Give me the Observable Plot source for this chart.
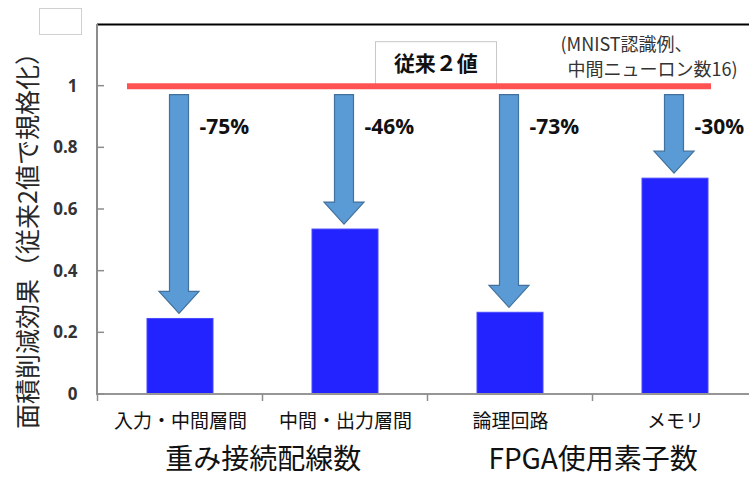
<!DOCTYPE html>
<html>
<head>
<meta charset="utf-8">
<script src="https://cdn.jsdelivr.net/npm/d3@7"></script>
<script src="https://cdn.jsdelivr.net/npm/@observablehq/plot@0.6"></script>
<style>
  body { margin: 0; background: #fff; overflow: hidden; }
  #wrap { position: relative; width: 749px; height: 478px; }
  #legendbox { position: absolute; left: 39px; top: 8px; width: 43px; height: 27px; border: 1px solid #d0d0d0; box-sizing: border-box; }
</style>
</head>
<body>
<div id="wrap"><div id="legendbox"></div></div>
<script>
// ---- data ----
const categories = ["入力・中間層間", "中間・出力層間", "論理回路", "メモリ"];
const values = [0.245, 0.535, 0.265, 0.70];
const reductions = ["-75%", "-46%", "-73%", "-30%"];
const yTicks = [0, 0.2, 0.4, 0.6, 0.8, 1];
const yMax = 1.2;
const baselineValue = 1;
const baselineLabel = "従来２値";
const groupLabels = ["重み接続配線数", "FPGA使用素子数"];
const groupFirstCategory = ["入力・中間層間", "論理回路"];
const yTitle = "面積削減効果（従来2値で規格化）";
const noteLine1 = "(MNIST認識例、";
const noteLine2 = "中間ニューロン数16)";

// ---- setup ----
const W = 749, H = 478;
const jp = "'Noto Sans CJK JP', 'Noto Sans', sans-serif";
const num = "'Open Sans', 'Noto Sans', sans-serif";
const bars = categories.map((c, i) => ({category: c, value: values[i], reduction: reductions[i]}));
const xRange = [97, 758];
const step = (xRange[1] - xRange[0]) / categories.length;

// axis lines & ticks (Excel-like: inward y ticks, category boundary ticks)
function decor(index, scales, vals, dims) {
  const {x, y} = scales;
  const g = d3.create("svg:g");
  const left = dims.marginLeft, top = dims.marginTop, bottom = dims.height - dims.marginBottom;
  const bw = x.bandwidth(), st = x.step();
  g.append("line").attr("x1", left).attr("x2", dims.width).attr("y1", y(0)).attr("y2", y(0))
    .attr("stroke", "#969696").attr("stroke-width", 2);
  g.append("line").attr("x1", left).attr("x2", left).attr("y1", top).attr("y2", bottom + 1)
    .attr("stroke", "#8c8c8c").attr("stroke-width", 2);
  for (const t of yTicks) {
    g.append("line").attr("x1", left).attr("x2", left + 7).attr("y1", y(t)).attr("y2", y(t))
      .attr("stroke", "#8c8c8c").attr("stroke-width", 1.5);
  }
  for (const c of categories) {
    const bx = x(c) + bw / 2 - st / 2;
    g.append("line").attr("x1", bx).attr("x2", bx).attr("y1", y(0)).attr("y2", y(0) + 7)
      .attr("stroke", "#8c8c8c").attr("stroke-width", 1.5);
  }
  return g.node();
}

// box behind the 従来２値 label
function labelBox(index, scales, vals, dims) {
  const {x, y} = scales;
  const bw = x.bandwidth(), st = x.step();
  const cx = x(categories[2]) + bw / 2 - st / 2 + 8;
  return d3.create("svg:rect")
    .attr("x", cx - 60).attr("width", 121)
    .attr("y", y(baselineValue) - 44).attr("height", 43)
    .attr("fill", "#fff").attr("stroke", "#c8c8c8").attr("stroke-width", 1)
    .node();
}

// block arrows from the baseline down to each bar
function arrows(index, scales, vals, dims) {
  const {x, y} = scales;
  const bw = x.bandwidth();
  const g = d3.create("svg:g");
  for (const d of bars) {
    const cx = x(d.category) + bw / 2 - 1;
    const y0 = y(baselineValue) + 9;
    const y1 = y(d.value) - 5;
    const head = 22, sw = 9.5, hw = 20;
    const p = [
      [cx - sw, y0], [cx + sw, y0], [cx + sw, y1 - head], [cx + hw, y1 - head],
      [cx, y1], [cx - hw, y1 - head], [cx - sw, y1 - head]
    ];
    g.append("path").attr("d", "M" + p.map(q => q.join(",")).join("L") + "Z")
      .attr("fill", "#5b9bd5").attr("stroke", "#41719c").attr("stroke-width", 1.2)
      .attr("stroke-linejoin", "miter");
  }
  return g.node();
}

const chart = Plot.plot({
  width: W,
  height: H,
  marginLeft: 97,
  marginRight: 0,
  marginTop: 24,
  marginBottom: 84,
  style: {fontFamily: jp, background: "#fff", overflow: "visible"},
  x: {type: "band", domain: categories, range: xRange, paddingInner: 0.6, paddingOuter: 0.3, axis: null},
  y: {domain: [0, yMax], axis: null},
  marks: [
    Plot.ruleY([yMax], {stroke: "#000", strokeWidth: 2}),
    labelBox,
    Plot.text([baselineLabel], {x: () => categories[2], y: () => baselineValue, dx: -step / 2 + 8, dy: -22,
      fontSize: 21, fontWeight: "bold", fill: "#111", fontFamily: jp}),
    Plot.ruleY([baselineValue], {stroke: "#ff5353", strokeWidth: 6, insetLeft: 30, insetRight: 38}),
    arrows,
    Plot.barY(bars, {x: "category", y: "value", fill: "#2323ff", stroke: "#4848ff", strokeWidth: 1}),
    decor,
    Plot.text(bars, {x: "category", y: () => baselineValue, text: "reduction", dx: 19, dy: 41,
      textAnchor: "start", fontSize: 21, fontWeight: "bold", fill: "#111", fontFamily: num}),
    Plot.text(bars, {x: "category", y: () => 0, text: "category", dy: 27, fontSize: 19, fill: "#111"}),
    Plot.text(yTicks, {y: d => d, text: d => String(d), frameAnchor: "left", dx: -20, textAnchor: "end",
      fontSize: 17, fontWeight: "bold", fill: "#333", fontFamily: num}),
    Plot.text(groupLabels, {x: (d, i) => groupFirstCategory[i], y: () => 0, text: d => d, dx: step / 2, dy: 66,
      fontSize: 28, fill: "#111"}),
    Plot.text([yTitle], {frameAnchor: "left", dx: -69, dy: 25, rotate: -90, textAnchor: "middle",
      fontSize: 25, fill: "#262626"}),
    Plot.text([noteLine1], {frameAnchor: "top-left", dx: 463, dy: 21, textAnchor: "start", lineAnchor: "middle",
      fontSize: 18, fill: "#333"}),
    Plot.text([noteLine2], {frameAnchor: "top-left", dx: 470, dy: 46, textAnchor: "start", lineAnchor: "middle",
      fontSize: 18, fill: "#333"})
  ]
});
document.getElementById("wrap").prepend(chart);
</script>
</body>
</html>
